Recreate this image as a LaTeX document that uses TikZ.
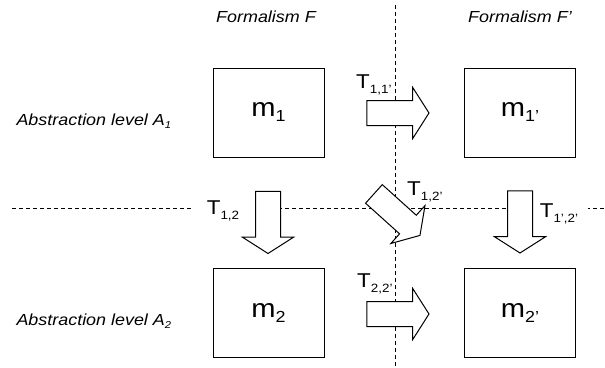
\documentclass[tikz,border=0pt]{standalone}
\usepackage{fontspec}
\setmainfont{Liberation Sans}[FakeStretch=1.12]
\usetikzlibrary{shapes.arrows}

\newcommand{\msub}[1]{\raisebox{-5pt}{\fontsize{16}{16}\selectfont #1}}
\newcommand{\tsub}[1]{\raisebox{-5pt}{\fontsize{12}{12}\selectfont #1}}
\newcommand{\asub}[1]{\raisebox{-3pt}{\fontsize{10}{10}\selectfont #1}}

\begin{document}
\begin{tikzpicture}[
    x=1pt, y=-1pt,
    model/.style={rectangle, draw, line width=1pt, minimum width=111pt, minimum height=89pt, inner sep=0pt, font=\fontsize{26}{28}\selectfont},
    trans/.style={single arrow, draw, line width=1pt, fill=white, inner xsep=0pt, inner ysep=12pt, minimum height=62pt, single arrow head extend=13pt, single arrow tip angle=115},
    tlabel/.style={fill=white, inner sep=2pt, font=\fontsize{20}{21}\selectfont},
    heading/.style={font=\itshape\fontsize{16}{18}\selectfont},
    border/.style={dash pattern=on 4pt off 3pt, line width=1pt}
]
\useasboundingbox (0,0) rectangle (605,367);

% Separators
\coordinate (vtop) at (395,5);
\coordinate (vbot) at (395,367);
\coordinate (hleft) at (12,208);
\coordinate (hright) at (605,208);
\draw[border] (vtop) -- (vbot);
\draw[border] (hleft) -- (hright);

% Headings
\node[heading, anchor=base] (formF) at (266,22) {Formalism F};
\node[heading, anchor=base] (formFp) at (520,22) {Formalism F'};
\node[heading, anchor=base west] (levA1) at (13,125) {Abstraction level A\asub{1}};
\node[heading, anchor=base west] (levA2) at (13,325) {Abstraction level A\asub{2}};

% Models
\node[model] (m1) at (268.5,112.5) {m\msub{1}};
\node[model] (m1p) at (520,112.5) {m\msub{1'}};
\node[model] (m2) at (268.5,313) {m\msub{2}};
\node[model] (m2p) at (520,313) {m\msub{2'}};

% Labels (white, they hide the dashes)
\node[tlabel, anchor=base west, text height=30pt, text depth=8pt] (l11p) at (354,88) {T\tsub{1,1'}};
\node[tlabel, anchor=base west, text height=22pt, text depth=11pt] (l22p) at (355,287) {T\tsub{2,2'}};
\node[tlabel, anchor=base, minimum width=62pt] (l12) at (223,214) {T\tsub{1,2}};
\node[tlabel, anchor=base, minimum width=57pt] (l1p2p) at (559,217) {T\tsub{1',2'}};
\node[tlabel, anchor=base west] (l12p) at (405,195) {T\tsub{1,2'}};

% Transformations
\node[trans] (t11p) at (394,113) {};
\node[trans] (t22p) at (394,314) {};
\node[trans, rotate=-90] (t12) at (268,218.5) {};
\node[trans, rotate=-90] (t1p2p) at (520,218) {};
\node[trans, rotate=-42] (t12p) at (394,212) {};

\end{tikzpicture}
\end{document}
